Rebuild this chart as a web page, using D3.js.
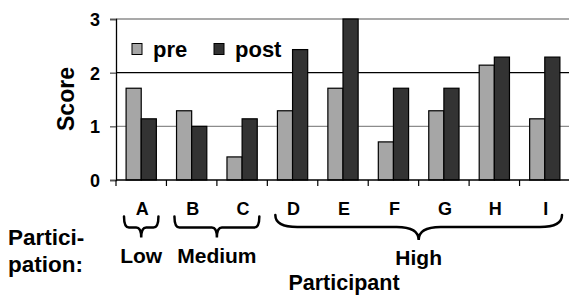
<!DOCTYPE html>
<html>
<head>
<meta charset="utf-8">
<script src="https://cdn.jsdelivr.net/npm/d3@7"></script>
<style>
  html, body { margin: 0; padding: 0; background: #fff; }
  svg { display: block; }
  text { font-family: "Liberation Sans", Arial, sans-serif; font-weight: bold; fill: #000; }
</style>
</head>
<body>
<svg id="chart" width="569" height="296"></svg>
<script>
// ---- data ----
const categories = ["A", "B", "C", "D", "E", "F", "G", "H", "I"];
const preValues  = [1.71, 1.29, 0.43, 1.29, 1.71, 0.71, 1.29, 2.14, 1.14];
const postValues = [1.14, 1.00, 1.14, 2.43, 3.00, 1.71, 1.71, 2.29, 2.29];
const seriesNames = ["pre", "post"];
const yTicks = [0, 1, 2, 3];
const groupLabels = ["Low", "Medium", "High"];
const groupMembers = [["A"], ["B", "C"], ["D", "E", "F", "G", "H", "I"]];

// ---- layout ----
const svg = d3.select("#chart");
const plotLeft = 116, plotRight = 570, plotTop = 19, plotBottom = 180;
const colors = { pre: "#a6a6a6", post: "#333333" };

const x = d3.scaleBand().domain(categories).range([plotLeft, plotRight]).padding(0);
const y = d3.scaleLinear().domain([0, 3]).range([plotBottom, plotTop]);
const barW = x.bandwidth() * 0.3;

// gridlines
svg.append("g").selectAll("line").data(yTicks.filter(d => d > 0)).join("line")
  .attr("x1", plotLeft).attr("x2", 569)
  .attr("y1", d => y(d)).attr("y2", d => y(d))
  .attr("stroke", d => d === 2 ? "#000" : "#8c8c8c")
  .attr("stroke-width", 1.3);

// bars
const data = categories.map((c, i) => ({ c, pre: preValues[i], post: postValues[i] }));
const g = svg.append("g");
seriesNames.forEach((s, si) => {
  g.selectAll("rect." + s).data(data).join("rect")
    .attr("class", s)
    .attr("x", d => x(d.c) + x.bandwidth() / 2 - barW + si * barW)
    .attr("y", d => y(d[s]))
    .attr("width", barW)
    .attr("height", d => plotBottom - y(d[s]))
    .attr("fill", colors[s])
    .attr("stroke", "#000")
    .attr("stroke-width", 1.2);
});

// y axis
const yAxis = svg.append("g").attr("transform", `translate(${plotLeft},0)`)
  .call(d3.axisLeft(y).tickValues(yTicks).tickSize(6).tickPadding(10).tickFormat(d3.format("d")));
yAxis.select(".domain").attr("stroke", "#000").attr("stroke-width", 1.3);
yAxis.selectAll(".tick line").attr("stroke", "#555").attr("stroke-width", 1.3);
yAxis.selectAll(".tick text").style("font-size", "18px").attr("dy", "0.36em")
  .style("font-family", "'Liberation Sans', Arial, sans-serif").style("font-weight", "bold");

// x axis
const xAxis = svg.append("g").attr("transform", `translate(0,${plotBottom})`);
xAxis.append("line").attr("x1", plotLeft).attr("x2", 569).attr("y1", 0).attr("y2", 0)
  .attr("stroke", "#000").attr("stroke-width", 1.3);
const bounds = categories.map(c => x(c)).concat([x(categories[categories.length - 1]) + x.bandwidth()]);
xAxis.selectAll("line.tk").data(bounds).join("line").attr("class", "tk")
  .attr("x1", d => d).attr("x2", d => d).attr("y1", 0).attr("y2", 6)
  .attr("stroke", "#000").attr("stroke-width", 1.2);

// category labels
svg.append("g").selectAll("text").data(categories).join("text")
  .attr("x", d => x(d) + x.bandwidth() / 2 + 1)
  .attr("y", 215)
  .attr("text-anchor", "middle")
  .style("font-size", "18px")
  .text(d => d);

// y title
svg.append("text")
  .attr("transform", "translate(74,99) rotate(-90)")
  .attr("text-anchor", "middle")
  .style("font-size", "23px")
  .text("Score");

// legend
const legendX = [132, 214];
seriesNames.forEach((s, i) => {
  svg.append("rect").attr("x", legendX[i]).attr("y", 43.5).attr("width", 10).attr("height", 11)
    .attr("fill", colors[s]).attr("stroke", "#000").attr("stroke-width", 1);
  svg.append("text").attr("x", legendX[i] + 21).attr("y", 56.5)
    .style("font-size", "22px").text(s);
});

// braces
function bracePath(x1, x2, yt, q, h, r) {
  const xm = (x1 + x2) / 2;
  return `M${x1},${yt} Q${x1},${yt + q} ${x1 + r},${yt + q} L${xm - r},${yt + q}` +
         ` Q${xm},${yt + q} ${xm},${yt + h} Q${xm},${yt + q} ${xm + r},${yt + q}` +
         ` L${x2 - r},${yt + q} Q${x2},${yt + q} ${x2},${yt}`;
}
const braceG = svg.append("g");
groupMembers.forEach((mem, i) => {
  const x1 = x(mem[0]) + 8;
  const x2 = x(mem[mem.length - 1]) + x.bandwidth() - 8;
  const big = (x2 - x1) > 150;
  const q = big ? 12 : 11;
  const h = big ? 25 : 21;
  const r = big ? 22 : 5;
  braceG.append("path")
    .attr("d", bracePath(x1, x2, big ? 215 : 216.5, q, h, Math.min(r, (x2 - x1) / 4)))
    .attr("fill", "none").attr("stroke", "#000").attr("stroke-width", 2.5)
    .attr("stroke-linecap", "round");
  svg.append("text")
    .attr("x", (x1 + x2) / 2)
    .attr("y", big ? 265 : 263)
    .attr("text-anchor", "middle")
    .style("font-size", "21px")
    .text(groupLabels[i]);
});

// participation label
const pl = svg.append("text").attr("x", 8).style("font-size", "22.5px");
pl.append("tspan").attr("x", 8).attr("y", 245).text("Partici-");
pl.append("tspan").attr("x", 8).attr("y", 272).text("pation:");

// x title
svg.append("text").attr("x", 344).attr("y", 290).attr("text-anchor", "middle")
  .style("font-size", "21.5px").text("Participant");
</script>
</body>
</html>
